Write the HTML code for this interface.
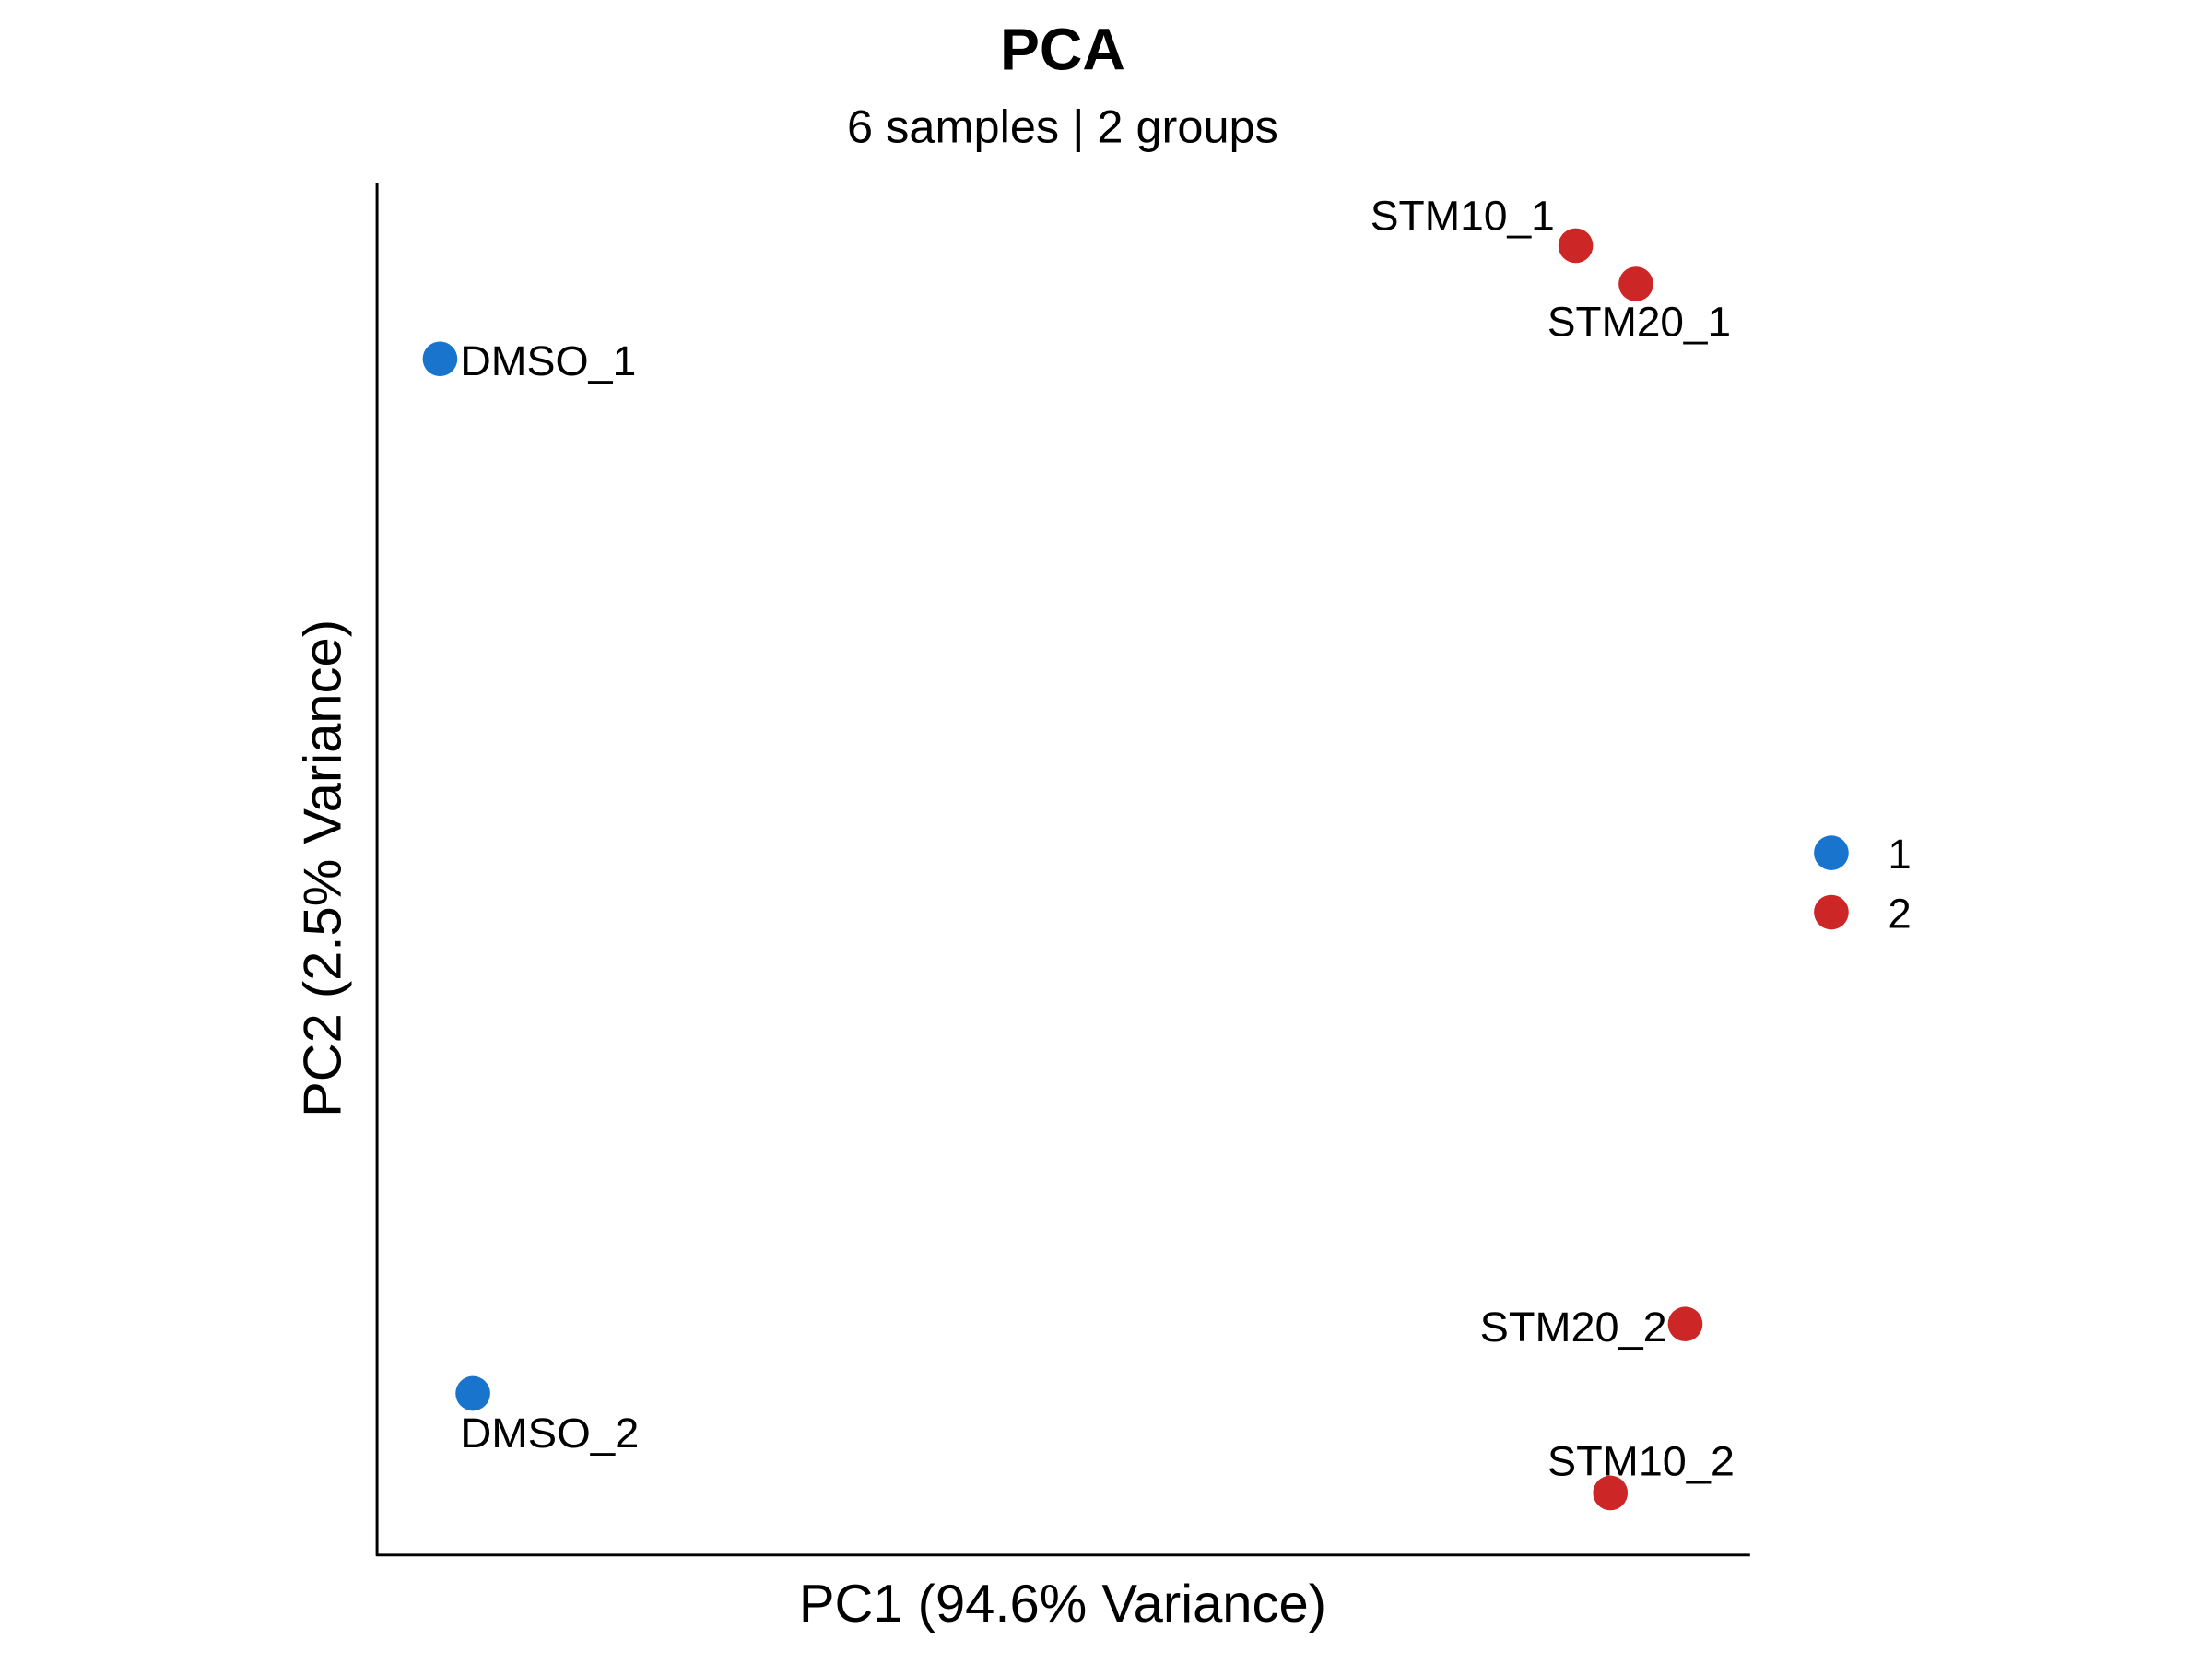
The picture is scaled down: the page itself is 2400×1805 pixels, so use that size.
<!DOCTYPE html>
<html><head><meta charset="utf-8"><style>html,body{margin:0;padding:0;background:#fff}</style></head>
<body>
<svg width="2400" height="1800" xmlns="http://www.w3.org/2000/svg" font-family="Liberation Sans, Arial, sans-serif">
<rect width="2400" height="1800" fill="#fff"/>
<g transform="scale(0.9905)">
<text x="1164" y="76" text-anchor="middle" font-size="65" font-weight="bold">PCA</text>
<text x="1164" y="156" text-anchor="middle" font-size="51">6 samples | 2 groups</text>
<line x1="413" y1="200" x2="413" y2="1704" stroke="#000" stroke-width="3"/>
<line x1="412" y1="1703" x2="1917" y2="1703" stroke="#000" stroke-width="3"/>
<g fill="#1874CD">
<circle cx="482" cy="393" r="19"/>
<circle cx="518" cy="1526" r="19"/>
<circle cx="2006" cy="934" r="19"/>
</g>
<g fill="#CD2626">
<circle cx="1726" cy="269" r="19"/>
<circle cx="1792" cy="311" r="19"/>
<circle cx="1846" cy="1450" r="19"/>
<circle cx="1764" cy="1635" r="19"/>
<circle cx="2006" cy="999" r="19"/>
</g>
<g font-size="46">
<text x="504" y="411" textLength="193" lengthAdjust="spacingAndGlyphs">DMSO_1</text>
<text x="504" y="1585" textLength="196" lengthAdjust="spacingAndGlyphs">DMSO_2</text>
<text x="1501" y="252" textLength="202" lengthAdjust="spacingAndGlyphs">STM10_1</text>
<text x="1695" y="368" textLength="201" lengthAdjust="spacingAndGlyphs">STM20_1</text>
<text x="1621" y="1469" textLength="205" lengthAdjust="spacingAndGlyphs">STM20_2</text>
<text x="1695" y="1616" textLength="205" lengthAdjust="spacingAndGlyphs">STM10_2</text>
<text x="2068" y="951">1</text>
<text x="2068" y="1016">2</text>
</g>
<text x="1164" y="1776" text-anchor="middle" font-size="58.5">PC1 (94.6% Variance)</text>
<text transform="translate(373,951) rotate(-90)" text-anchor="middle" font-size="58.5">PC2 (2.5% Variance)</text>
</g>
</svg>
</body></html>
